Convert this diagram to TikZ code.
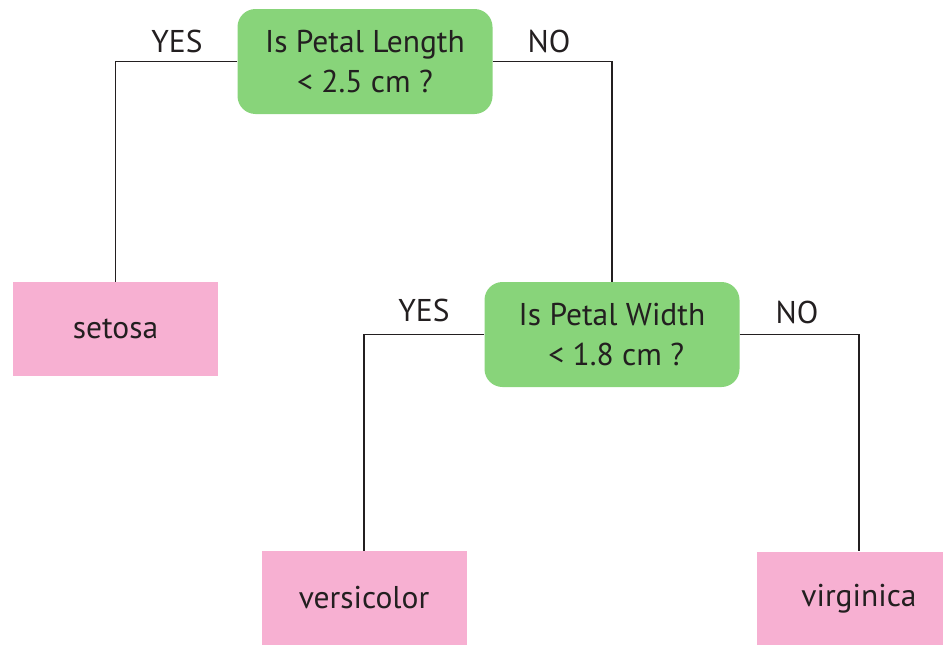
\documentclass[tikz,border=0pt]{standalone}
\usepackage{fontspec}
\setmainfont{PT Sans}
\definecolor{ink}{RGB}{35,31,32}
\definecolor{qgreen}{RGB}{136,212,122}
\definecolor{leafpink}{RGB}{247,176,210}
\begin{document}
\begin{tikzpicture}[x=1pt,y=-1pt,
  txt/.style={text=ink,font=\fontsize{31.5}{40}\selectfont},
  question/.style={txt,fill=qgreen,rounded corners=18pt,minimum width=255pt,minimum height=105pt,align=center,inner sep=0pt},
  leaf/.style={txt,fill=leafpink,minimum width=205pt,minimum height=94pt,inner sep=0pt},
  branch/.style={draw=ink,line width=1.4pt},
  answer/.style={txt,anchor=base}]
\useasboundingbox (0,0) rectangle (943,645);
% decision nodes
\node[question] (q1) at (365,61.5) {Is Petal Length\\ < 2.5 cm ?};
\node[question] (q2) at (612,334.5) {Is Petal Width\\ \ < 1.8 cm ?};
% leaves
\node[leaf] (setosa) at (115.5,329) {setosa};
\node[leaf] (versicolor) at (364,598) {versicolor};
\node[leaf] (virginica) at (859,598.5) {virginica};
% branches
\draw[branch] (q1.west) -| (setosa.north);
\draw[branch] (q1.east) -| (q2.north);
\draw[branch] (q2.west) -| (versicolor.north);
\draw[branch] (q2.east) -| (virginica.north);
% branch labels
\node[answer] (y1) at (177,52) {YES};
\node[answer] (n1) at (549,52) {NO};
\node[answer] (y2) at (424,321) {YES};
\node[answer] (n2) at (797,323) {NO};
\end{tikzpicture}
\end{document}
